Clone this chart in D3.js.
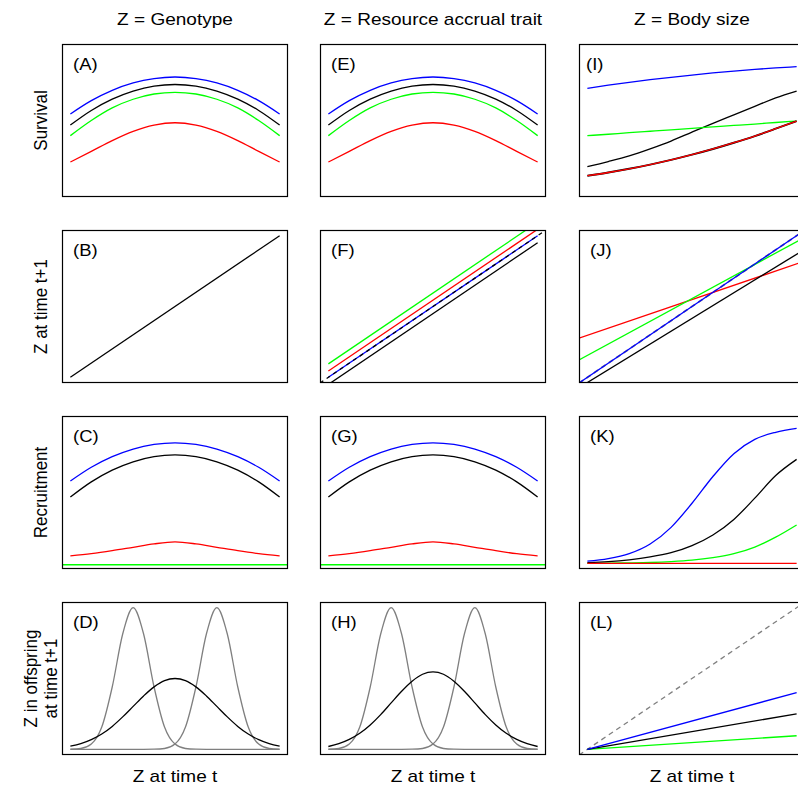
<!DOCTYPE html>
<html>
<head>
<meta charset="utf-8">
<script src="https://cdn.jsdelivr.net/npm/d3@7"></script>
<style>
  body { margin: 0; background: #fff; }
  text { font-family: "Liberation Sans", Arial, sans-serif; fill: #000; }
</style>
</head>
<body>
<div id="chart"></div>
<script>
// ---- labels ----
const colTitles = ["Z = Genotype", "Z = Resource accrual trait", "Z = Body size"];
const rowTitles = [["Survival"], ["Z at time t+1"], ["Recruitment"], ["Z in offspring", "at time t+1"]];
const xTitle = "Z at time t";
const panelLetters = [["A", "E", "I"], ["B", "F", "J"], ["C", "G", "K"], ["D", "H", "L"]];

// ---- x positions (trait value Z at time t, scaled 0..1) ----
const zGrid = [0, 0.1, 0.2, 0.3, 0.4, 0.5, 0.6, 0.7, 0.8, 0.9, 1];
const zFine = [0, 0.05, 0.1, 0.15, 0.2, 0.25, 0.3, 0.35, 0.4, 0.45, 0.5,
               0.55, 0.6, 0.65, 0.7, 0.75, 0.8, 0.85, 0.9, 0.95, 1];
const zUnit = [0, 1];
const zFull = [-0.04, 1.04];

// ---- survival: genotype / resource trait (A, E) ----
const survBlue  = [0.546, 0.640, 0.713, 0.765, 0.796, 0.807, 0.796, 0.765, 0.713, 0.640, 0.546];
const survBlack = [0.468, 0.571, 0.651, 0.708, 0.743, 0.754, 0.743, 0.708, 0.651, 0.571, 0.468];
const survGreen = [0.393, 0.500, 0.589, 0.650, 0.687, 0.699, 0.687, 0.650, 0.589, 0.500, 0.393];
const survRed   = [0.207, 0.282, 0.358, 0.423, 0.467, 0.484, 0.467, 0.423, 0.358, 0.282, 0.207];

// ---- survival: body size (I) ----
const sizeSurvBlue  = [0.727, 0.749, 0.769, 0.788, 0.805, 0.821, 0.836, 0.849, 0.861, 0.871, 0.880];
const sizeSurvBlack = [0.174, 0.210, 0.250, 0.300, 0.355, 0.418, 0.480, 0.540, 0.600, 0.660, 0.708];
const sizeSurvGreen = [0.393, 0.403, 0.414, 0.424, 0.434, 0.445, 0.455, 0.465, 0.475, 0.486, 0.496];
const sizeSurvRed   = [0.110, 0.133, 0.159, 0.189, 0.222, 0.259, 0.299, 0.343, 0.390, 0.442, 0.496];

// ---- growth (B, F, J) ----
const growthGeno = [0, 1];
const growthTraitGreen = [0.095, 1.095];
const growthTraitRed   = [0.045, 1.045];
const growthTraitBlue  = [0, 1];
const growthTraitBlack = [-0.05, 0.95];
const identityLine     = [-0.04, 1.04];
const growthSizeRed   = [0.276, 0.821];
const growthSizeGreen = [0.122, 0.990];
const growthSizeBlue  = [-0.04, 1.04];
const growthSizeBlack = [-0.073, 0.905];

// ---- recruitment (C, G, K) ----
const recBlue  = [0.581, 0.678, 0.753, 0.807, 0.839, 0.850, 0.839, 0.807, 0.753, 0.678, 0.581];
const recBlack = [0.468, 0.575, 0.658, 0.717, 0.753, 0.765, 0.753, 0.717, 0.658, 0.575, 0.468];
const recRed   = [0.052, 0.068, 0.089, 0.113, 0.137, 0.151, 0.137, 0.113, 0.089, 0.068, 0.052];
const recGreen = [-0.01, -0.01];
const recSizeBlue  = [0.015, 0.033, 0.068, 0.136, 0.254, 0.424, 0.613, 0.774, 0.875, 0.925, 0.953];
const recSizeBlack = [0.005, 0.012, 0.025, 0.045, 0.075, 0.125, 0.200, 0.310, 0.460, 0.620, 0.734];
const recSizeGreen = [0.000, 0.001, 0.003, 0.006, 0.012, 0.022, 0.040, 0.068, 0.115, 0.185, 0.271];
const recSizeRed   = [0, 0];

// ---- offspring trait (D, H, L) ----
const parentLow  = [0.001, 0.006, 0.037, 0.157, 0.440, 0.814, 1, 0.814, 0.440, 0.157, 0.037,
                    0.006, 0.001, 0, 0, 0, 0, 0, 0, 0, 0];
const parentHigh = [0, 0, 0, 0, 0, 0, 0, 0, 0.001, 0.006, 0.037,
                    0.157, 0.440, 0.814, 1, 0.814, 0.440, 0.157, 0.037, 0.006, 0.001];
const offspringGeno  = [0.022, 0.040, 0.068, 0.108, 0.162, 0.229, 0.303, 0.377, 0.441, 0.485, 0.500,
                        0.485, 0.441, 0.377, 0.303, 0.229, 0.162, 0.108, 0.068, 0.040, 0.022];
const offspringTrait = [0.020, 0.040, 0.070, 0.113, 0.172, 0.245, 0.328, 0.410, 0.481, 0.530, 0.547,
                        0.530, 0.481, 0.410, 0.328, 0.245, 0.172, 0.113, 0.070, 0.040, 0.020];
const offspringSizeBlue  = [0, 0.40];
const offspringSizeBlack = [0, 0.25];
const offspringSizeGreen = [0, 0.096];

// ---- layout ----
const width = 798, height = 787;
const colLeft = [62, 320, 579];
const rowTop = [44, 230, 416, 602];
const boxW = 226, boxH = 153;
const textStretch = 1.12;   // the figure's lettering is a little wide

const BLUE = "#0000ff", BLACK = "#000000", GREEN = "#00ff00", RED = "#ff0000", GREY = "#7f7f7f";

const s = (x, y, color, dash, w) => ({ x, y, color, dash, w });
const panels = [
  { row: 0, col: 0, series: [s(zGrid, survRed, RED), s(zGrid, survGreen, GREEN), s(zGrid, survBlack, BLACK), s(zGrid, survBlue, BLUE)] },
  { row: 0, col: 1, series: [s(zGrid, survRed, RED), s(zGrid, survGreen, GREEN), s(zGrid, survBlack, BLACK), s(zGrid, survBlue, BLUE)] },
  { row: 0, col: 2, series: [s(zGrid, sizeSurvBlack, BLACK), s(zGrid, sizeSurvGreen, GREEN),
                             s(zGrid, sizeSurvRed, BLACK, null, 1.9), s(zGrid, sizeSurvRed, RED), s(zGrid, sizeSurvBlue, BLUE)] },
  { row: 1, col: 0, series: [s(zUnit, growthGeno, BLACK)] },
  { row: 1, col: 1, series: [s(zUnit, growthTraitGreen, GREEN), s(zUnit, growthTraitRed, RED), s(zUnit, growthTraitBlue, BLUE),
                             s(zFull, identityLine, BLACK, "4,4"), s(zUnit, growthTraitBlack, BLACK)] },
  { row: 1, col: 2, series: [s(zFull, identityLine, GREY, "5,4", 1.8), s(zFull, growthSizeRed, RED), s(zFull, growthSizeGreen, GREEN),
                             s(zFull, growthSizeBlue, BLUE), s(zFull, growthSizeBlack, BLACK)] },
  { row: 2, col: 0, series: [s(zFull, recGreen, GREEN), s(zGrid, recRed, RED), s(zGrid, recBlack, BLACK), s(zGrid, recBlue, BLUE)] },
  { row: 2, col: 1, series: [s(zFull, recGreen, GREEN), s(zGrid, recRed, RED), s(zGrid, recBlack, BLACK), s(zGrid, recBlue, BLUE)] },
  { row: 2, col: 2, series: [s(zGrid, recSizeGreen, GREEN), s(zGrid, recSizeBlack, BLACK), s(zGrid, recSizeBlue, BLUE), s(zUnit, recSizeRed, RED)] },
  { row: 3, col: 0, series: [s(zFine, parentLow, GREY), s(zFine, parentHigh, GREY), s(zFine, offspringGeno, BLACK)] },
  { row: 3, col: 1, series: [s(zFine, parentLow, GREY), s(zFine, parentHigh, GREY), s(zFine, offspringTrait, BLACK)] },
  { row: 3, col: 2, series: [s(zFull, identityLine, GREY, "5,4"), s(zUnit, offspringSizeGreen, GREEN),
                             s(zUnit, offspringSizeBlack, BLACK), s(zUnit, offspringSizeBlue, BLUE)] }
];

const svg = d3.select("#chart")
  .append("svg")
  .attr("width", width)
  .attr("height", height);

// same data window for every panel (R style 4% padding)
const xScale = d3.scaleLinear().domain([-0.04, 1.04]).range([0, boxW]);
const yScale = d3.scaleLinear().domain([-0.04, 1.04]).range([boxH, 0]);

const line = d3.line()
  .x(d => xScale(d[0]))
  .y(d => yScale(d[1]))
  .curve(d3.curveMonotoneX);

svg.append("defs").append("clipPath")
  .attr("id", "panel-clip")
  .append("rect")
  .attr("width", boxW)
  .attr("height", boxH);

panels.forEach(p => {
  const g = svg.append("g")
    .attr("transform", `translate(${colLeft[p.col]}, ${rowTop[p.row]})`);

  const plot = g.append("g").attr("clip-path", "url(#panel-clip)");
  p.series.forEach(ser => {
    plot.append("path")
      .datum(ser.x.map((x, i) => [x, ser.y[i]]))
      .attr("fill", "none")
      .attr("stroke", ser.color)
      .attr("stroke-width", ser.w || 1.3)
      .attr("stroke-dasharray", ser.dash || null)
      .attr("d", line);
  });

  g.append("rect")
    .attr("x", 0.5)
    .attr("y", 0.5)
    .attr("width", boxW - 1)
    .attr("height", boxH - 1)
    .attr("fill", "none")
    .attr("stroke", "#000")
    .attr("stroke-width", 1.2);

  const letter = panelLetters[p.row][p.col];
  g.append("text")
    .attr("transform", `translate(${letter === "I" ? 7 : 11}, 26) scale(${textStretch}, 1)`)
    .attr("font-size", 16.5)
    .text(`(${letter})`);
});

// column titles and bottom axis titles
colTitles.forEach((t, i) => {
  const cx = colLeft[i] + boxW / 2;
  svg.append("text")
    .attr("transform", `translate(${cx}, 25) scale(${textStretch}, 1)`)
    .attr("text-anchor", "middle")
    .attr("font-size", 17)
    .text(t);
  svg.append("text")
    .attr("transform", `translate(${cx}, 782) scale(${textStretch}, 1)`)
    .attr("text-anchor", "middle")
    .attr("font-size", 17)
    .text(xTitle);
});

// row titles (rotated)
rowTitles.forEach((lines, r) => {
  const cy = rowTop[r] + boxH / 2;
  lines.forEach((t, j) => {
    const cx = lines.length === 1 ? 40 : 30 + j * 20;
    svg.append("text")
      .attr("transform", `translate(${cx}, ${cy}) scale(${textStretch}, 1) rotate(-90)`)
      .attr("text-anchor", "middle")
      .attr("dy", "0.35em")
      .attr("font-size", 17)
      .text(t);
  });
});
</script>
</body>
</html>
